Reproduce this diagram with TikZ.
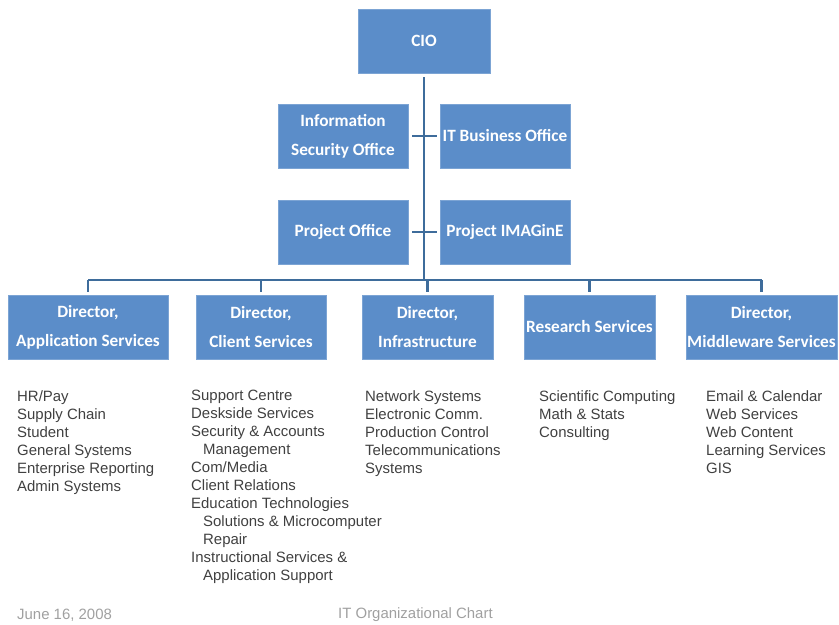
\documentclass[tikz,border=0pt]{standalone}
\usepackage{fontspec}
\setmainfont{Liberation Sans}
\newfontfamily\boxfont{Carlito}
\usetikzlibrary{calc}
\definecolor{boxblue}{RGB}{91,141,201}
\definecolor{lineblue}{RGB}{62,108,155}
\definecolor{listgray}{RGB}{64,64,64}
\definecolor{footgray}{RGB}{160,160,160}
\tikzstyle{unit}=[fill=boxblue, draw=boxblue!80!white, minimum height=64bp, inner sep=0pt, text=white, align=center, font=\boxfont\bfseries\fontsize{17.3}{29}\selectfont]
\tikzstyle{link}=[draw=lineblue, line width=2.4bp]
\tikzstyle{duties}=[anchor=north west, inner sep=0pt, align=left, text=listgray, font=\fontsize{15}{18.1}\selectfont]
\tikzstyle{footer}=[anchor=west, inner sep=0pt, text=footgray, font=\fontsize{15}{16}\selectfont]

\begin{document}
\begin{tikzpicture}[x=1bp, y=-1bp]
    \useasboundingbox (0, 0) rectangle (839, 625);

    \node[unit, minimum width=132bp] (cio) at (424, 41) {CIO};

    \node[unit, minimum width=130bp] (isec) at (343, 136) {Information\\Security Office};
    \node[unit, minimum width=130bp] (itbo) at (505, 136) {IT Business Office};
    \node[unit, minimum width=130bp] (proj) at (343, 232) {Project Office};
    \node[unit, minimum width=130bp] (imag) at (505, 232) {Project IMAGinE};

    \node[unit, minimum width=160bp] (app) at (88, 327) {Director,\\Application Services};
    \node[unit, minimum width=130bp] (cli) at (261, 327) {Director,\\Client Services};
    \node[unit, minimum width=131bp] (infra) at (427.5, 327) {Director,\\Infrastructure};
    \node[unit, minimum width=131bp] (res) at (589.5, 327) {Research Services};
    \node[unit, minimum width=151bp] (mid) at (761.5, 327) {Director,\\Middleware Services};

    \coordinate (bus) at (cio.south |- 0, 280);

    \draw[link, shorten <=4bp] (cio.south) -- (bus);
    \draw[link, shorten <=4bp, shorten >=3bp] (isec.east) -- (itbo.west);
    \draw[link, shorten <=4bp, shorten >=3bp] (proj.east) -- (imag.west);
    \draw[link] (app.north |- bus) -- (mid.north |- bus);
    \foreach \d in {app, cli, infra, res, mid}
        \draw[link, shorten <=3bp] (\d.north) -- (\d.north |- bus);

    \node[duties] (appl) at (17, 390) {HR/Pay\\Supply Chain\\Student\\General Systems\\Enterprise Reporting\\Admin Systems};
    \node[duties] (clil) at (191, 390) {Support Centre\\Deskside Services\\Security \& Accounts\\\hspace*{12bp}Management\\Com/Media\\Client Relations\\Education Technologies\\\hspace*{12bp}Solutions \& Microcomputer\\\hspace*{12bp}Repair\\Instructional Services \&\\\hspace*{12bp}Application Support};
    \node[duties] (infral) at (365, 390) {Network Systems\\Electronic Comm.\\Production Control\\Telecommunications\\Systems};
    \node[duties] (resl) at (539, 390) {Scientific Computing\\Math \& Stats\\Consulting};
    \node[duties] (midl) at (706, 390) {Email \& Calendar\\Web Services\\Web Content\\Learning Services\\GIS};

    \node[footer] (date) at (17, 615) {June 16, 2008};
    \node[footer] (title) at (338, 615) {IT Organizational Chart};
\end{tikzpicture}
\end{document}
